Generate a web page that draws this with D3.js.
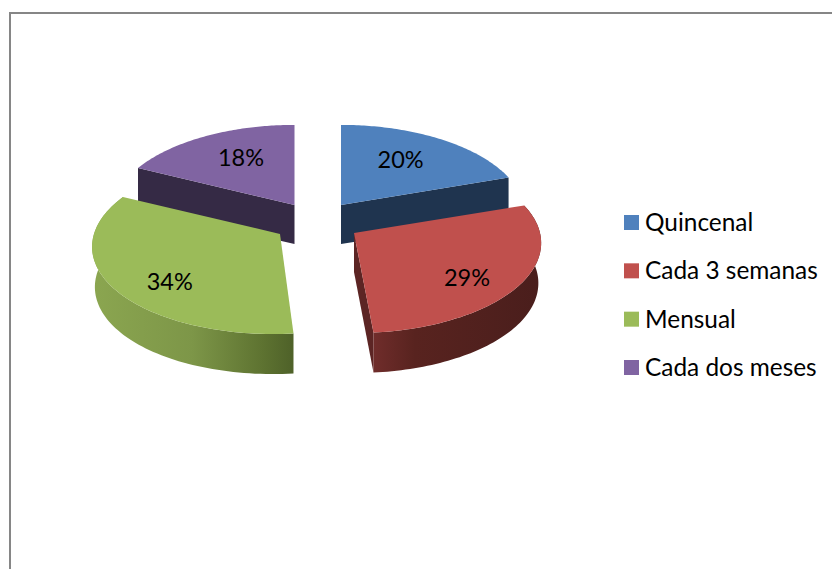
<!DOCTYPE html>
<html><head><meta charset="utf-8">
<script src="https://cdn.jsdelivr.net/npm/d3@7"></script>
<style>html,body{margin:0;padding:0;background:#fff;overflow:hidden}svg{display:block}text{font-family:Lato,"Open Sans",sans-serif;fill:#000}</style>
</head><body><svg id="c" width="832" height="569"></svg>
<script>
const categories = ["Quincenal","Cada 3 semanas","Mensual","Cada dos meses"];
const values = [20,29,34,18];
const percentLabels = ["20%","29%","34%","18%"];
const topColors = ["#4f81bd","#c0504d","#9bbb59","#8064a2"];
const cutColors = ["#1f344f","#5c2524","#5f7530","#352a45"];

// layout
const apex = [[341,205],[354,233],[280,234],[294.5,205]];
const nudge = [[-4,-2],[5,11],[-2,13],[4,-2]];
const xScale = [0.985,1,1,0.98];
const skew = [0,0,-6,0];
const R = 186, S = 89, P = 0.111, DEPTH = 40, BOTTOM_SHRINK = 0.015;

const svg = d3.select("#c");
const defs = svg.append("defs");
function grad(id,x1,x2,stops){
  const g = defs.append("linearGradient").attr("id",id).attr("gradientUnits","userSpaceOnUse")
    .attr("x1",x1).attr("x2",x2).attr("y1",0).attr("y2",0);
  stops.forEach(s=>g.append("stop").attr("offset",s[0]).attr("stop-color",s[1]));
}
grad("wallRed",373,540,[[0,"#702d2b"],[0.25,"#58231f"],[1,"#4a1e1c"]]);
grad("wallGreen",92,292,[[0,"#8ba650"],[0.5,"#7d9648"],[0.85,"#5e7331"],[1,"#4f6229"]]);

// page frame
svg.append("path").attr("d",d3.line()([[10,569],[10,13],[832,13]]))
  .attr("fill","none").attr("stroke","#868686").attr("stroke-width",2);

// pie angles
const arcs = d3.pie().sort(null).value(d=>d)(values);
function rim(i,a,f=1){
  const u=Math.sin(a), v=-Math.cos(a), d=1-P*v;
  return [f*(xScale[i]*R*u/d + skew[i]*v), f*S*v/d];
}
const line = d3.line();
function topPath(i){
  const A=arcs[i], n=80, ap=apex[i];
  const pts=[ap];
  d3.range(n+1).forEach(k=>{
    const p=rim(i,A.startAngle+(A.endAngle-A.startAngle)*k/n);
    pts.push([ap[0]+p[0],ap[1]+p[1]]);
  });
  return line(pts)+"Z";
}
function wallPath(i){
  const A=arcs[i], n=80, ap=apex[i], up=[], low=[];
  d3.range(n+1).forEach(k=>{
    const a=A.startAngle+(A.endAngle-A.startAngle)*k/n;
    const p=rim(i,a);
    const shrink=1-BOTTOM_SHRINK*Math.abs(Math.sin(a));
    up.push([ap[0]+p[0],ap[1]+p[1]]);
    low.push([ap[0]+p[0]*shrink,ap[1]+p[1]+DEPTH]);
  });
  return line(up.concat(low.reverse()))+"Z";
}
function cutPath(i,angle){
  const ap=apex[i], p=rim(i,angle);
  return line([ap,[ap[0]+p[0],ap[1]+p[1]],[ap[0]+p[0],ap[1]+p[1]+DEPTH],[ap[0],ap[1]+DEPTH-1]])+"Z";
}

const gPie = svg.append("g");
// back slices
gPie.append("path").attr("d",cutPath(0,arcs[0].endAngle)).attr("fill",cutColors[0]);
gPie.append("path").attr("d",topPath(0)).attr("fill",topColors[0]);
gPie.append("path").attr("d",cutPath(3,arcs[3].startAngle)).attr("fill",cutColors[3]);
gPie.append("path").attr("d",topPath(3)).attr("fill",topColors[3]);
// front slices
gPie.append("path").attr("d",cutPath(1,arcs[1].endAngle)).attr("fill",cutColors[1]);
gPie.append("path").attr("d",wallPath(1)).attr("fill","url(#wallRed)");
gPie.append("path").attr("d",topPath(1)).attr("fill",topColors[1]);
gPie.append("path").attr("d",wallPath(2)).attr("fill","url(#wallGreen)");
gPie.append("path").attr("d",topPath(2)).attr("fill",topColors[2]);

// percent labels
arcs.forEach((A,i)=>{
  const p=rim(i,(A.startAngle+A.endAngle)/2,0.65);
  svg.append("text").attr("x",apex[i][0]+p[0]+nudge[i][0]).attr("y",apex[i][1]+p[1]+nudge[i][1]+8)
    .attr("text-anchor","middle").attr("font-size",23.5).text(percentLabels[i]);
});

// legend
const legendY = d3.scalePoint().domain(categories).range([215,360]);
const lg = svg.append("g").selectAll("g").data(categories).join("g");
lg.append("rect").attr("x",624).attr("y",d=>legendY(d)).attr("width",15).attr("height",15)
  .attr("fill",(d,i)=>topColors[i]);
lg.append("text").attr("x",645).attr("y",d=>legendY(d)+16).attr("font-size",24.4).text(d=>d);
</script></body></html>
